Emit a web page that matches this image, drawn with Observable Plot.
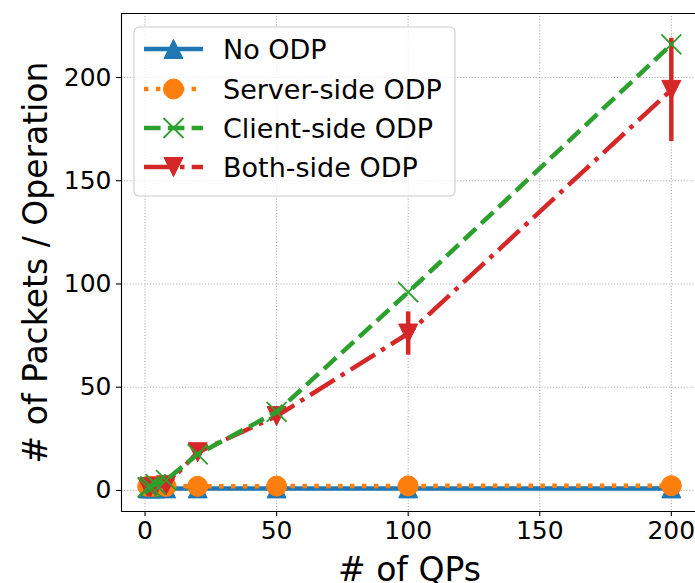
<!DOCTYPE html>
<html><head><meta charset="utf-8">
<script src="https://cdn.jsdelivr.net/npm/d3@7"></script>
<script src="https://cdn.jsdelivr.net/npm/@observablehq/plot@0.6"></script>
<style>
html,body{margin:0;padding:0;background:#fff;overflow:hidden}
#wrap{position:relative;width:695px;height:583px}
#legend{position:absolute;left:0;top:0;pointer-events:none}
</style></head><body><div id="wrap"></div>
<script>
// ---- data ----
const qps = [1, 2, 4, 8, 20, 50, 100, 200];
const noOdp = [1, 1, 1, 1, 1, 1, 1, 1];
const serverOdp = [2, 2, 2, 2, 2, 2.1, 2.2, 2.3];
const clientOdp = [1.5, 2, 3, 5, 17.5, 38, 96, 216];
const bothOdp = [1.5, 1.5, 1.8, 2.5, 18.5, 36, 76, 194];
const bothErr = [0.3, 0.3, 0.4, 0.5, 1, 2, 10.5, 25];
const seriesNames = ["No ODP", "Server-side ODP", "Client-side ODP", "Both-side ODP"];
const colors = ["#1f77b4", "#ff7f0e", "#2ca02c", "#d62728"];
const xTicks = [0, 50, 100, 150, 200];
const yTicks = [0, 50, 100, 150, 200];
const xLabel = "# of QPs";
const yLabel = "# of Packets / Operation";

// ---- styles ----
const LW = 4.5;
const dashes = [null, "4.5,7.4", "16.6,7.2", "28.8,7.2,4.5,7.2"];
const R = 9.5;
const triUp = {draw(c, s){const h=Math.sqrt(s/Math.PI); c.moveTo(0,-h); c.lineTo(h,h); c.lineTo(-h,h); c.closePath();}};
const triDown = {draw(c, s){const h=Math.sqrt(s/Math.PI); c.moveTo(0,h); c.lineTo(h,-h); c.lineTo(-h,-h); c.closePath();}};
const xMark = {draw(c, s){const h=Math.sqrt(s/Math.PI); c.moveTo(-h,-h); c.lineTo(h,h); c.moveTo(h,-h); c.lineTo(-h,h);}};
const symbols = [triUp, "circle", xMark, triDown];

const rows = (vals, err) => qps.map((x, i) => ({x, y: vals[i], lo: err ? vals[i]-err[i] : null, hi: err ? vals[i]+err[i] : null}));
const series = [rows(noOdp), rows(serverOdp), rows(clientOdp), rows(bothOdp, bothErr)];

const xDomain = [-8.95, 209.95];
const yDomain = [-10.2, 231];

function seriesMarks(k) {
  const d = series[k], col = colors[k];
  const m = [Plot.line(d, {x: "x", y: "y", stroke: col, strokeWidth: LW, strokeDasharray: dashes[k], strokeLinecap: dashes[k] ? "butt" : "square"})];
  if (k === 2) m.push(Plot.dot(d, {x: "x", y: "y", r: R + 0.5, symbol: xMark, stroke: col, strokeWidth: 1.8, fill: "none"}));
  else if (k === 1) m.push(Plot.dot(d, {x: "x", y: "y", r: R + 0.5, fill: col, stroke: col, strokeWidth: 1}));
  else m.push(Plot.dot(d, {x: "x", y: "y", r: R, symbol: symbols[k], fill: col, stroke: col, strokeWidth: 1}));
  return m;
}

const gridStyle = {stroke: "#b0b0b0", strokeOpacity: 1, strokeWidth: 1.1, strokeDasharray: "1.1,1.8"};

const chart = Plot.plot({
  width: 695, height: 583,
  marginLeft: 121, marginTop: 13, marginBottom: 72, marginRight: -2,
  style: {fontFamily: "DejaVu Sans", fontSize: "25px", color: "#000", background: "#fff", overflow: "hidden"},
  x: {domain: xDomain},
  y: {domain: yDomain},
  marks: [
    Plot.gridX(xTicks, gridStyle),
    Plot.gridY(yTicks, gridStyle),
    Plot.axisX(xTicks, {tickSize: 5, tickPadding: 5, label: null, fontSize: 25, strokeWidth: 1.1}),
    Plot.axisY(yTicks, {tickSize: 5, tickPadding: 5, label: null, fontSize: 25, strokeWidth: 1.1}),
    ...seriesMarks(0),
    ...seriesMarks(1),
    Plot.ruleX(series[3], {x: "x", y1: "lo", y2: "hi", stroke: colors[3], strokeWidth: LW}),
    ...seriesMarks(3),
    ...seriesMarks(2),
    Plot.ruleX([xDomain[0]], {stroke: "#000", strokeWidth: 1.1}),
    Plot.ruleY([yDomain[0], yDomain[1]], {stroke: "#000", strokeWidth: 1.1}),
    Plot.text([yLabel], {frameAnchor: "left", rotate: -90, dx: -85, fontSize: 33, lineAnchor: "middle", textAnchor: "middle", fill: "#000"}),
    Plot.text([xLabel], {frameAnchor: "bottom", dy: 46, fontSize: 33, lineAnchor: "top", fill: "#000"})
  ]
});
document.getElementById("wrap").appendChild(chart);

// ---- legend (inside plot, upper left) ----
const lg = d3.select("#wrap").append("svg").attr("id", "legend").attr("width", 695).attr("height", 583)
  .style("font-family", "DejaVu Sans");
lg.append("rect").attr("x", 134).attr("y", 27).attr("width", 321).attr("height", 169).attr("rx", 5)
  .attr("fill", "#fff").attr("fill-opacity", 0.8).attr("stroke", "#cccccc").attr("stroke-width", 1.1);
const rowY = [49, 89, 128, 167];
seriesNames.forEach((name, k) => {
  const y = rowY[k], col = colors[k];
  lg.append("line").attr("x1", 144).attr("x2", 203).attr("y1", y).attr("y2", y)
    .attr("stroke", col).attr("stroke-width", LW).attr("stroke-dasharray", dashes[k]);
  const sym = k === 1 ? d3.symbolCircle : symbols[k];
  const rr = k === 1 || k === 2 ? R + 0.5 : R;
  lg.append("path").attr("transform", `translate(173.5,${y})`)
    .attr("d", d3.symbol(sym, rr * rr * Math.PI)())
    .attr("fill", k === 2 ? "none" : col).attr("stroke", col).attr("stroke-width", k === 2 ? 1.8 : 1);
  lg.append("text").attr("x", 223).attr("y", y).attr("dominant-baseline", "central")
    .attr("font-size", 27).attr("fill", "#000").text(name);
});
</script></body></html>
